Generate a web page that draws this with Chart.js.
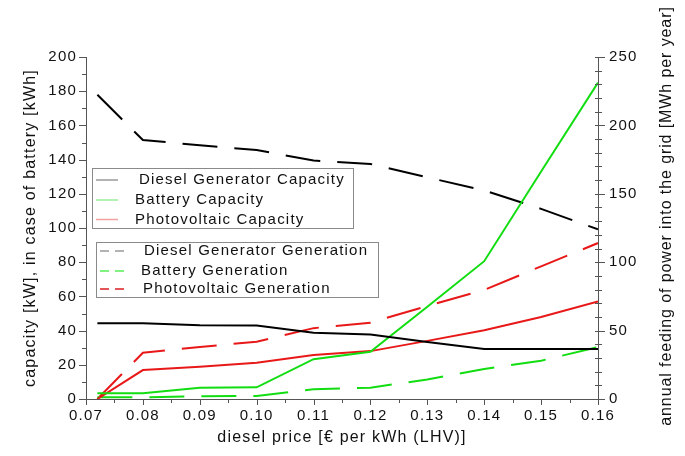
<!DOCTYPE html>
<html><head><meta charset="utf-8">
<script src="https://cdn.jsdelivr.net/npm/chart.js@4/dist/chart.umd.min.js"></script>
<style>html,body{margin:0;padding:0;background:#fff;}#wrap{width:685px;height:456px;}</style>
</head><body><div id="wrap"><canvas id="c" width="685" height="456"></canvas></div>
<script>
// diesel price [€ per kWh (LHV)]
const dieselPrice = [0.072, 0.08, 0.09, 0.10, 0.11, 0.12, 0.13, 0.14, 0.15, 0.16];
// left axis: capacity [kW] (battery [kWh])
const dieselCapacity  = [44.3, 44.3, 43.1, 43.0, 38.7, 37.7, 33.4, 29.2, 29.2, 29.2];
const batteryCapacity = [3.3, 3.3, 6.6, 6.8, 23.3, 27.6, 54.0, 80.6, 133.0, 185.0];
const pvCapacity      = [0, 16.9, 18.8, 21.2, 25.7, 28.0, 34.0, 40.2, 48.0, 57.1];
// right axis: annual feeding into the grid [MWh per year]
const dieselGeneration  = [222.4, 189.3, 185.5, 182.0, 174.3, 171.8, 162.0, 152.5, 139.0, 124.0];
const batteryGeneration = [1.2, 1.2, 2.0, 2.2, 7.1, 8.3, 14.3, 22.0, 28.0, 38.0];
const pvGeneration      = [0, 33.8, 38.0, 41.9, 51.8, 55.8, 68.0, 79.7, 97.0, 114.0];

const xLabels = ['0.07','0.08','0.09','0.10','0.11','0.12','0.13','0.14','0.15','0.16'];
const leftTicks = [0,20,40,60,80,100,120,140,160,180,200];
const rightTicks = [0,50,100,150,200,250];

const FONT = '"Liberation Sans", Arial, sans-serif';
const LS = '1.2px';
const BLACK = '#000000', GREEN = '#11dd11', RED = '#e81818';

const pts = arr => dieselPrice.map((x, i) => ({x: x, y: arr[i]}));
const dash = [35, 17];

function ds(label, arr, color, axis, dashed, legendColor) {
  return {label, data: pts(arr), borderColor: color, backgroundColor: color, yAxisID: axis,
    borderWidth: 2, pointRadius: 0, tension: 0, borderDash: dashed ? dash : [],
    legendColor: legendColor, dashed: dashed};
}

const datasets = [
  ds('Diesel Generator Capacity', dieselCapacity, BLACK, 'y', false, '#9a9a9a'),
  ds('Battery Capacity', batteryCapacity, GREEN, 'y', false, '#9aee9a'),
  ds('Photovoltaic Capacity', pvCapacity, RED, 'y', false, '#f2a0a0'),
  ds('Diesel Generator Generation', dieselGeneration, BLACK, 'y1', true, '#9a9a9a'),
  ds('Battery Generation', batteryGeneration, GREEN, 'y1', true, '#55ee55'),
  ds('Photovoltaic Generation', pvGeneration, RED, 'y1', true, '#d82020'),
];

const spacingPlugin = {
  id: 'spacing',
  beforeDraw(chart) { chart.ctx.letterSpacing = LS; }
};

const decorPlugin = {
  id: 'decor',
  afterDraw(chart) {
    const ctx = chart.ctx;
    const x = chart.scales.x, y = chart.scales.y, y1 = chart.scales.y1;
    const ca = chart.chartArea;
    ctx.save();
    ctx.letterSpacing = LS;
    ctx.strokeStyle = '#555';
    ctx.lineWidth = 1;
    ctx.beginPath();
    for (let v = 0; v <= 200; v += 10) {
      const py = Math.round(y.getPixelForValue(v)) + 0.5;
      const len = (v % 20 === 0) ? 7 : 4;
      ctx.moveTo(ca.left, py); ctx.lineTo(ca.left - len, py);
    }
    for (let v = 0; v <= 250; v += 10) {
      const py = Math.round(y1.getPixelForValue(v)) + 0.5;
      const len = (v % 50 === 0) ? 7 : 4;
      ctx.moveTo(ca.right, py); ctx.lineTo(ca.right + len, py);
      ctx.moveTo(ca.right, py); ctx.lineTo(ca.right - 3, py);
    }
    for (let k = 0; k <= 18; k++) {
      const v = 0.07 + k * 0.005;
      const px = Math.round(x.getPixelForValue(v)) + 0.5;
      const len = (k % 2 === 0) ? 6 : 4;
      ctx.moveTo(px, ca.bottom); ctx.lineTo(px, ca.bottom + len);
    }
    ctx.stroke();

    ctx.fillStyle = '#111';
    ctx.font = '16px ' + FONT;
    ctx.letterSpacing = '0.9px';
    ctx.textAlign = 'center';
    ctx.textBaseline = 'middle';
    ctx.translate(667, 216);
    ctx.rotate(-Math.PI / 2);
    ctx.fillText('annual feeding of power into the grid [MWh per year]', 0, 0);
    ctx.restore();

    ctx.save();
    ctx.letterSpacing = LS;
    ctx.font = '15px ' + FONT;
    ctx.textBaseline = 'middle';
    ctx.textAlign = 'left';
    ctx.strokeStyle = '#8a8a8a';
    ctx.lineWidth = 1;
    ctx.strokeRect(92.5, 168.5, 261, 60);
    ctx.strokeRect(96.5, 242.5, 282, 55);
    const boxes = [
      {items: [0,1,2], ys: [180, 200, 219.5], lx0: 96, lx1: 118, tx: [139, 135, 135]},
      {items: [3,4,5], ys: [251, 271, 289], lx0: 100, lx1: 126, tx: [144, 141, 143]},
    ];
    boxes.forEach(b => {
      b.items.forEach((di, j) => {
        const d = chart.data.datasets[di];
        ctx.strokeStyle = d.legendColor;
        ctx.lineWidth = 1.5;
        ctx.setLineDash(d.dashed ? [9, 6] : []);
        ctx.beginPath();
        ctx.moveTo(b.lx0, b.ys[j]); ctx.lineTo(b.lx1, b.ys[j]);
        ctx.stroke();
        ctx.setLineDash([]);
        ctx.fillStyle = '#111';
        ctx.fillText(d.label, b.tx[j], b.ys[j]);
      });
    });
    ctx.restore();
  }
};

new Chart(document.getElementById('c'), {
  type: 'line',
  data: {datasets},
  plugins: [spacingPlugin, decorPlugin],
  options: {
    responsive: false,
    animation: false,
    devicePixelRatio: 1,
    layout: {padding: {top: 57, left: 0, right: 0, bottom: 0}},
    plugins: {legend: {display: false}, tooltip: {enabled: false}, title: {display: false}},
    scales: {
      x: {
        type: 'linear', min: 0.07, max: 0.16,
        grid: {display: false},
        border: {display: true, color: '#555', width: 1},
        ticks: {stepSize: 0.01, color: '#111', font: {family: FONT, size: 15}, padding: 0,
          maxRotation: 0, autoSkip: false,
          callback: (v) => { const i = Math.round((v - 0.07) * 100); return xLabels[i] !== undefined ? xLabels[i] : ''; }},
        title: {display: true, text: 'diesel price [€ per kWh (LHV)]', color: '#111',
          font: {family: FONT, size: 16}, padding: {top: 0, bottom: 9}},
        afterFit: (s) => { s.height = 57; }
      },
      y: {
        type: 'linear', position: 'left', min: 0, max: 200,
        grid: {display: false},
        border: {display: true, color: '#555', width: 1},
        ticks: {stepSize: 20, color: '#111', font: {family: FONT, size: 15}, padding: 1,
          callback: (v) => leftTicks.includes(v) ? String(v) : ''},
        title: {display: true, text: 'capacity [kW], in case of battery [kWh]', color: '#111',
          font: {family: FONT, size: 16}, padding: {top: 21, bottom: 0}},
        afterFit: (s) => { s.width = 86; }
      },
      y1: {
        type: 'linear', position: 'right', min: 0, max: 250,
        grid: {display: false},
        border: {display: true, color: '#555', width: 1},
        ticks: {stepSize: 50, color: '#111', font: {family: FONT, size: 15}, padding: 3,
          callback: (v) => rightTicks.includes(v) ? String(v) : ''},
        afterFit: (s) => { s.width = 87; }
      }
    }
  }
});
</script>
</body></html>
